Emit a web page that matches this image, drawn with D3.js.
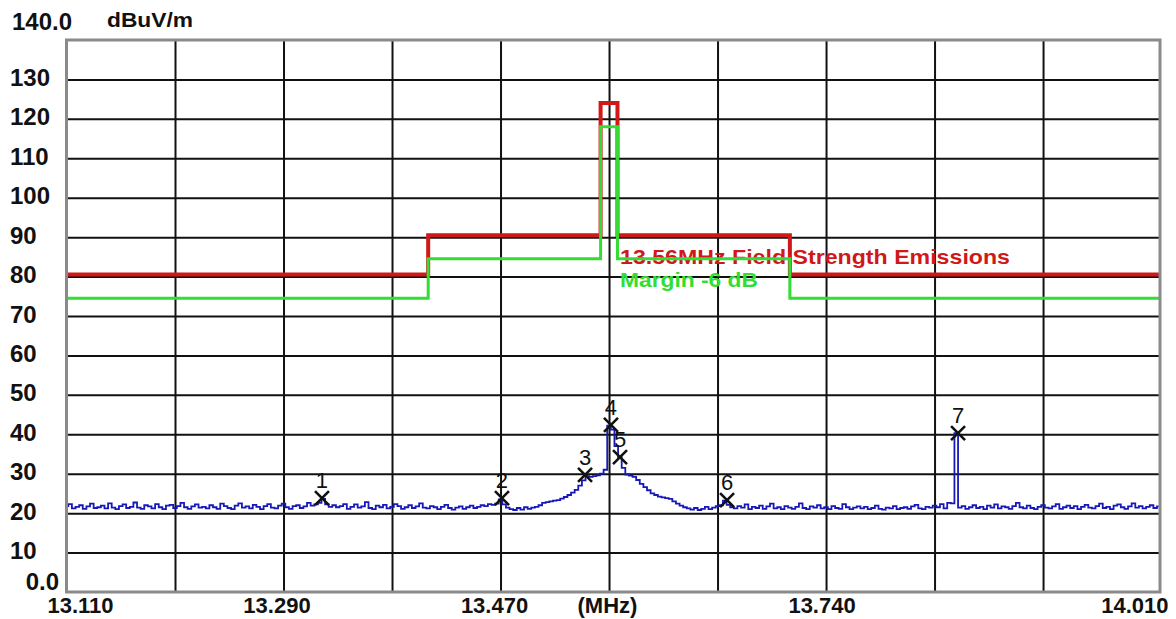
<!DOCTYPE html>
<html><head><meta charset="utf-8">
<script src="https://cdn.jsdelivr.net/npm/d3@7"></script>
<style>
body{margin:0;background:#fff}
svg text{font-family:"Liberation Sans",Arial,sans-serif;font-weight:bold;fill:#111}
</style>
</head><body>
<svg id="chart" width="1176" height="619"></svg>
<script>
// ---------- data ----------
const freqStart = 13.110;
const freqStep = 0.003;
const freqEnd = 14.017;   // right edge of the plot frame
const traceLevels = [
  21.8,22.3,21.2,21.6,22.0,21.1,21.7,22.4,21.3,21.5,
  21.9,21.2,22.5,21.4,21.0,21.8,22.2,21.3,21.6,22.7,
  21.4,21.1,22.0,21.7,21.2,22.3,21.5,21.0,21.9,22.1,
  21.3,21.8,22.6,21.5,21.1,21.7,22.2,21.4,21.6,21.2,
  22.0,21.5,21.1,22.4,21.8,21.3,21.0,21.9,22.5,21.4,
  21.7,21.2,22.1,21.6,21.0,21.8,22.3,21.4,21.2,21.9,
  22.4,21.5,21.1,21.8,22.0,21.3,21.7,22.6,21.9,22.2,
  22.6,23.6,22.2,21.6,22.0,21.5,21.8,22.3,21.1,21.6,
  22.2,21.4,21.7,22.8,21.3,21.0,21.9,21.5,22.1,21.2,
  21.6,22.3,21.8,21.1,21.5,22.0,21.3,21.7,22.5,21.4,
  21.2,21.8,21.5,21.0,21.6,22.1,21.3,20.9,21.4,21.7,
  21.1,21.5,21.9,21.3,21.6,22.0,21.8,22.3,22.1,22.4,
  23.5,22.2,21.4,21.0,20.8,21.3,20.9,21.5,21.1,21.4,
  21.6,22.0,22.6,22.8,23.0,23.2,23.3,23.7,24.1,24.6,
  25.2,25.9,27.0,28.3,29.4,29.2,29.4,29.6,30.0,31.0,
  42.2,41.2,37.0,34.2,31.5,29.8,29.5,29.2,28.4,27.4,
  26.6,25.8,25.0,24.6,24.2,24.0,23.8,23.6,23.0,22.4,
  21.9,21.5,21.2,20.9,21.3,20.8,21.1,21.6,21.0,21.4,
  21.8,22.0,23.2,22.1,21.5,21.2,21.8,21.4,22.2,21.0,
  21.6,21.3,21.9,21.1,21.7,22.4,21.2,21.5,21.0,21.8,
  21.4,21.1,21.6,22.5,21.3,21.0,21.7,21.4,22.0,21.2,
  21.5,21.0,21.8,21.3,21.1,22.3,21.5,21.0,21.4,21.7,
  21.2,21.6,21.0,21.3,21.9,21.1,20.9,21.4,21.2,21.8,
  21.0,21.3,21.5,21.1,21.7,22.1,21.2,21.0,21.6,21.4,
  21.9,21.5,22.3,21.2,22.6,22.5,40.3,21.4,21.8,21.1,
  21.5,22.0,21.3,21.6,21.0,21.9,21.4,22.2,21.2,21.7,
  21.5,21.1,21.8,22.6,21.5,21.2,21.9,21.3,21.0,21.6,
  22.0,21.4,21.2,21.7,22.3,21.1,21.5,21.9,21.3,21.8,
  21.0,21.6,22.1,21.4,21.2,21.8,22.4,21.3,21.6,21.0,
  21.9,22.2,21.5,21.1,21.7,22.5,21.4,21.8,21.2,21.6,
  22.0,21.3,21.7
];
const limitFreqs   = [13.110, 13.410, 13.553, 13.567, 13.710, 14.017];
const limitLevels  = [80.5, 90.5, 124.0, 90.5, 80.5, 80.5];
const marginLevels = [74.5, 84.5, 118.0, 84.5, 74.5, 74.5];
const markerNums   = ["1","2","3","4","5","6","7"];
const markerFreqs  = [13.3219, 13.4712, 13.5401, 13.5616, 13.5691, 13.6579, 13.8495];
const markerLevels = [23.8, 23.8, 29.7, 42.4, 34.2, 23.3, 40.3];
const xGridFreqs  = [13.200, 13.290, 13.380, 13.470, 13.560, 13.650, 13.740, 13.830, 13.920];
const xTickFreqs  = [13.110, 13.290, 13.470, 13.740, 14.010];
const xTickLabels = ["13.110", "13.290", "13.470", "13.740", "14.010"];
const yGridLevels = [10, 20, 30, 40, 50, 60, 70, 80, 90, 100, 110, 120, 130];
const yTopLabel = "140.0", yBottomLabel = "0.0";
const yUnit = "dBuV/m", xUnit = "(MHz)", xUnitFreq = 13.5587;
const legendLimit = "13.56MHz Field Strength Emissions";
const legendMargin = "Margin -6 dB";

// ---------- layout ----------
const L = 66.5, R = 1160, T = 40, B = 592;
const svg = d3.select("#chart");
const x = d3.scaleLinear().domain([freqStart, freqEnd]).range([L, R]);
const y = d3.scaleLinear().domain([0, 140]).range([B, T]);

// grid
svg.append("g").attr("transform", `translate(0,${B})`)
  .call(d3.axisBottom(x).tickValues(xGridFreqs).tickSize(-(B - T)).tickFormat(""))
  .call(g => g.select(".domain").remove())
  .call(g => g.selectAll("line").attr("stroke", "#111").attr("stroke-width", 2));
svg.append("g").attr("transform", `translate(${L},0)`)
  .call(d3.axisRight(y).tickValues(yGridLevels).tickSize(R - L).tickFormat(""))
  .call(g => g.select(".domain").remove())
  .call(g => g.selectAll("line").attr("stroke", "#111").attr("stroke-width", 2));

// y labels (left aligned)
svg.append("g").attr("transform", "translate(10,0)")
  .call(d3.axisLeft(y).tickValues(yGridLevels).tickSize(0).tickPadding(0))
  .call(g => g.select(".domain").remove())
  .call(g => g.selectAll("text")
    .attr("text-anchor", "start").attr("x", 0).attr("dy", null)
    .attr("transform", "translate(0,6)")
    .style("font-size", "24px").style("font-family", null).attr("fill", "#111"));
svg.append("text").attr("x", 59).attr("y", 590).attr("text-anchor", "end")
  .style("font-size", "24px").text(yBottomLabel);
svg.append("text").attr("x", 12).attr("y", 30).style("font-size", "24px").text(yTopLabel);
svg.append("text").attr("x", 107).attr("y", 27).style("font-size", "21px")
  .attr("textLength", 86).attr("lengthAdjust", "spacingAndGlyphs").text(yUnit);

// x labels
const xDx = [-19.5, -7, -6.5, -4.5, 16.5];
svg.append("g").attr("transform", `translate(0,${B})`)
  .call(d3.axisBottom(x).tickValues(xTickFreqs).tickSize(0).tickPadding(0)
    .tickFormat((d, i) => xTickLabels[i]))
  .call(g => g.select(".domain").remove())
  .call(g => g.selectAll("text")
    .attr("y", 21).attr("dy", null)
    .style("font-size", "22px").style("font-family", null).attr("fill", "#111")
    .each(function(d, i) {
      const t = d3.select(this);
      const anchor = i === 0 ? "start" : (i === xTickFreqs.length - 1 ? "end" : "middle");
      t.attr("text-anchor", anchor).attr("x", xDx[i]);
    }));
svg.append("text").attr("x", x(xUnitFreq)).attr("y", 613).attr("text-anchor", "middle")
  .style("font-size", "22px").text(xUnit);

// limit line
const stepLine = d3.line().x(d => x(d[0])).y(d => y(d[1])).curve(d3.curveStepAfter);
svg.append("path").datum(limitFreqs.map((f, i) => [f, limitLevels[i]]))
  .attr("d", stepLine).attr("fill", "none").attr("stroke", "#d01818").attr("stroke-width", 4);

// legend texts
svg.append("text").attr("x", 620).attr("y", 264).style("font-size", "21px")
  .attr("textLength", 390).attr("lengthAdjust", "spacingAndGlyphs")
  .style("fill", "#d01818").text(legendLimit);
svg.append("text").attr("x", 620).attr("y", 287).style("font-size", "21px")
  .attr("textLength", 138).attr("lengthAdjust", "spacingAndGlyphs")
  .style("fill", "#33dd33").text(legendMargin);

// margin line
svg.append("path").datum(limitFreqs.map((f, i) => [f, marginLevels[i]]))
  .attr("d", stepLine).attr("fill", "none").attr("stroke", "#33dd33").attr("stroke-width", 3);

// trace
const trace = traceLevels.map((v, i) => [freqStart + i * freqStep, v]);
svg.append("path").datum(trace)
  .attr("d", d3.line().x(d => x(d[0])).y(d => y(d[1])).curve(d3.curveStep))
  .attr("fill", "none").attr("stroke", "#1818b8").attr("stroke-width", 1.8);

// markers
const mk = svg.append("g");
markerNums.forEach((n, i) => {
  const cx = x(markerFreqs[i]), cy = y(markerLevels[i]), s = 7;
  mk.append("path")
    .attr("d", `M${cx - s},${cy - s}L${cx + s},${cy + s}M${cx - s},${cy + s}L${cx + s},${cy - s}`)
    .attr("stroke", "#111").attr("stroke-width", 2.6).attr("fill", "none");
  mk.append("text").attr("x", cx).attr("y", cy - 10).attr("text-anchor", "middle")
    .style("font-size", "22px").style("font-weight", "normal").text(n);
});

// border
svg.append("rect").attr("x", L).attr("y", T).attr("width", R - L).attr("height", B - T)
  .attr("fill", "none").attr("stroke", "#8a8a8a").attr("stroke-width", 3);
</script>
</body></html>
